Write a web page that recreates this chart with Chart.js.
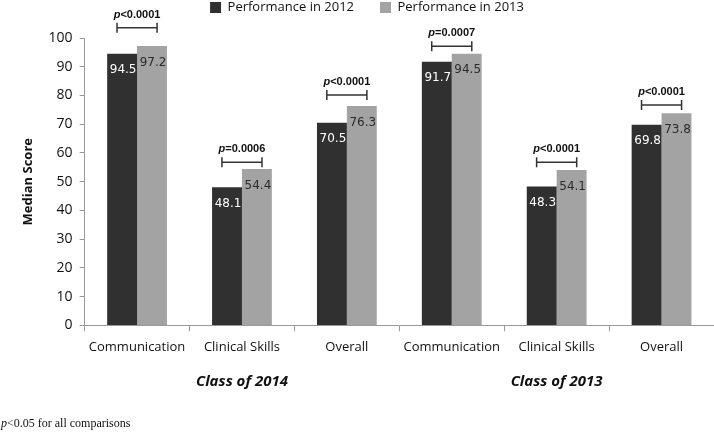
<!DOCTYPE html>
<html>
<head>
<meta charset="utf-8">
<script src="https://cdn.jsdelivr.net/npm/chart.js@4.4.1/dist/chart.umd.min.js"></script>
<style>
  html, body { margin: 0; padding: 0; background: #fff; }
  #wrap { width: 714px; height: 436px; }
</style>
</head>
<body>
<div id="wrap"><canvas id="medianChart"></canvas></div>
<script>
// categories
var skills = ['Communication', 'Clinical Skills', 'Overall', 'Communication', 'Clinical Skills', 'Overall'];
var classes = ['Class of 2014', 'Class of 2013'];

// median scores
var perf2012 = [94.5, 48.1, 70.5, 91.7, 48.3, 69.8];
var perf2013 = [97.2, 54.4, 76.3, 94.5, 54.1, 73.8];

// significance brackets (level on the score axis) and p values
var bracketLevels = [103.6, 56.8, 80.2, 97.1, 56.8, 76.7];
var pSigns = ['<', '=', '<', '=', '<', '<'];
var pValues = ['0.0001', '0.0006', '0.0001', '0.0007', '0.0001', '0.0001'];

var yTicks = [0, 10, 20, 30, 40, 50, 60, 70, 80, 90, 100];

// labels inside the bars
var barLabels = {
    id: 'barLabels',
    afterDatasetsDraw: function (chart) {
        var ctx = chart.ctx;
        ctx.save();
        ctx.font = '12px "DejaVu Sans"';
        ctx.textAlign = 'center';
        ctx.textBaseline = 'middle';
        chart.data.datasets.forEach(function (ds, i) {
            var meta = chart.getDatasetMeta(i);
            ctx.fillStyle = i === 0 ? '#ffffff' : '#2b2b2b';
            meta.data.forEach(function (bar, j) {
                ctx.fillText(ds.data[j].toFixed(1), bar.x + 1, bar.y + 16.5);
            });
        });
        ctx.restore();
    }
};

// p value brackets above each pair
var pBrackets = {
    id: 'pBrackets',
    afterDraw: function (chart) {
        var ctx = chart.ctx;
        var yScale = chart.scales.y;
        var dark = chart.getDatasetMeta(0).data;
        var light = chart.getDatasetMeta(1).data;
        ctx.save();
        ctx.strokeStyle = '#333333';
        ctx.fillStyle = '#111111';
        ctx.lineWidth = 1.5;
        for (var i = 0; i < bracketLevels.length; i++) {
            var cx = (dark[i].x + light[i].x) / 2;
            var half = (light[i].x - dark[i].x) * 0.67;
            var y = yScale.getPixelForValue(bracketLevels[i]);
            ctx.beginPath();
            ctx.moveTo(cx - half, y);
            ctx.lineTo(cx + half, y);
            ctx.moveTo(cx - half, y - 5);
            ctx.lineTo(cx - half, y + 5);
            ctx.moveTo(cx + half, y - 5);
            ctx.lineTo(cx + half, y + 5);
            ctx.stroke();

            var rest = pSigns[i] + pValues[i];
            ctx.font = 'italic bold 11px "Liberation Sans"';
            var wp = ctx.measureText('p').width;
            ctx.font = 'bold 11px "Liberation Sans"';
            var wr = ctx.measureText(rest).width;
            var x0 = cx - (wp + wr) / 2;
            var ty = y - 13;
            ctx.textAlign = 'left';
            ctx.textBaseline = 'middle';
            ctx.font = 'italic bold 11px "Liberation Sans"';
            ctx.fillText('p', x0, ty);
            ctx.font = 'bold 11px "Liberation Sans"';
            ctx.fillText(rest, x0 + wp, ty);
        }
        ctx.restore();
    }
};

// footnote bottom left
var footNote = {
    id: 'footNote',
    afterDraw: function (chart) {
        var ctx = chart.ctx;
        ctx.save();
        ctx.fillStyle = '#111111';
        ctx.textBaseline = 'middle';
        ctx.textAlign = 'left';
        ctx.font = 'italic 12px "Liberation Serif"';
        ctx.fillText('p', 1, 424);
        var w = ctx.measureText('p').width;
        ctx.font = '12px "Liberation Serif"';
        ctx.fillText('<0.05 for all comparisons', 1 + w, 424);
        ctx.restore();
    }
};

// fixed legend block height
var legendGap = {
    id: 'legendGap',
    beforeInit: function (chart) {
        var fit = chart.legend.fit;
        chart.legend.fit = function () {
            fit.bind(chart.legend)();
            this.height = 63;
        };
    }
};

var ctx = document.getElementById('medianChart').getContext('2d');
new Chart(ctx, {
    type: 'bar',
    data: {
        labels: skills,
        datasets: [
            {
                label: 'Performance in 2012',
                data: perf2012,
                backgroundColor: '#303030',
                borderColor: '#303030',
                borderWidth: 0,
                barPercentage: 1.0,
                categoryPercentage: 0.57,
                xAxisID: 'x'
            },
            {
                label: 'Performance in 2013',
                data: perf2013,
                backgroundColor: '#a3a3a3',
                borderColor: '#a3a3a3',
                borderWidth: 0,
                barPercentage: 1.0,
                categoryPercentage: 0.57,
                xAxisID: 'x'
            }
        ]
    },
    options: {
        responsive: true,
        maintainAspectRatio: false,
        animation: false,
        layout: {
            padding: { top: -25, right: 0, bottom: 43, left: 20 }
        },
        plugins: {
            legend: {
                position: 'top',
                labels: {
                    boxWidth: 11,
                    boxHeight: 11,
                    padding: 26,
                    color: '#111111',
                    font: { family: '"Open Sans"', size: 13 }
                }
            },
            tooltip: { enabled: false }
        },
        scales: {
            x: {
                type: 'category',
                offset: true,
                grid: {
                    display: true,
                    offset: true,
                    drawOnChartArea: false,
                    tickLength: 6,
                    color: '#999999'
                },
                border: { color: '#999999' },
                ticks: {
                    color: '#111111',
                    padding: 8,
                    font: { family: '"Open Sans"', size: 13 }
                }
            },
            x2: {
                type: 'category',
                labels: classes,
                position: 'bottom',
                offset: true,
                grid: { display: false },
                border: { display: false },
                ticks: {
                    color: '#111111',
                    padding: 2,
                    font: { family: '"Open Sans"', size: 15, style: 'italic', weight: 'bold' }
                }
            },
            y: {
                min: 0,
                max: 100,
                afterBuildTicks: function (axis) {
                    axis.ticks = yTicks.map(function (v) { return { value: v }; });
                },
                grid: {
                    display: true,
                    drawOnChartArea: false,
                    tickLength: 5,
                    color: '#999999'
                },
                border: { color: '#999999' },
                ticks: {
                    color: '#111111',
                    padding: 7,
                    font: { family: '"Open Sans"', size: 14 }
                },
                title: {
                    display: true,
                    text: 'Median Score',
                    color: '#111111',
                    padding: { top: 0, bottom: 6 },
                    font: { family: '"Open Sans"', size: 13, weight: 'bold' }
                }
            }
        }
    },
    plugins: [barLabels, pBrackets, footNote, legendGap]
});
</script>
</body>
</html>
